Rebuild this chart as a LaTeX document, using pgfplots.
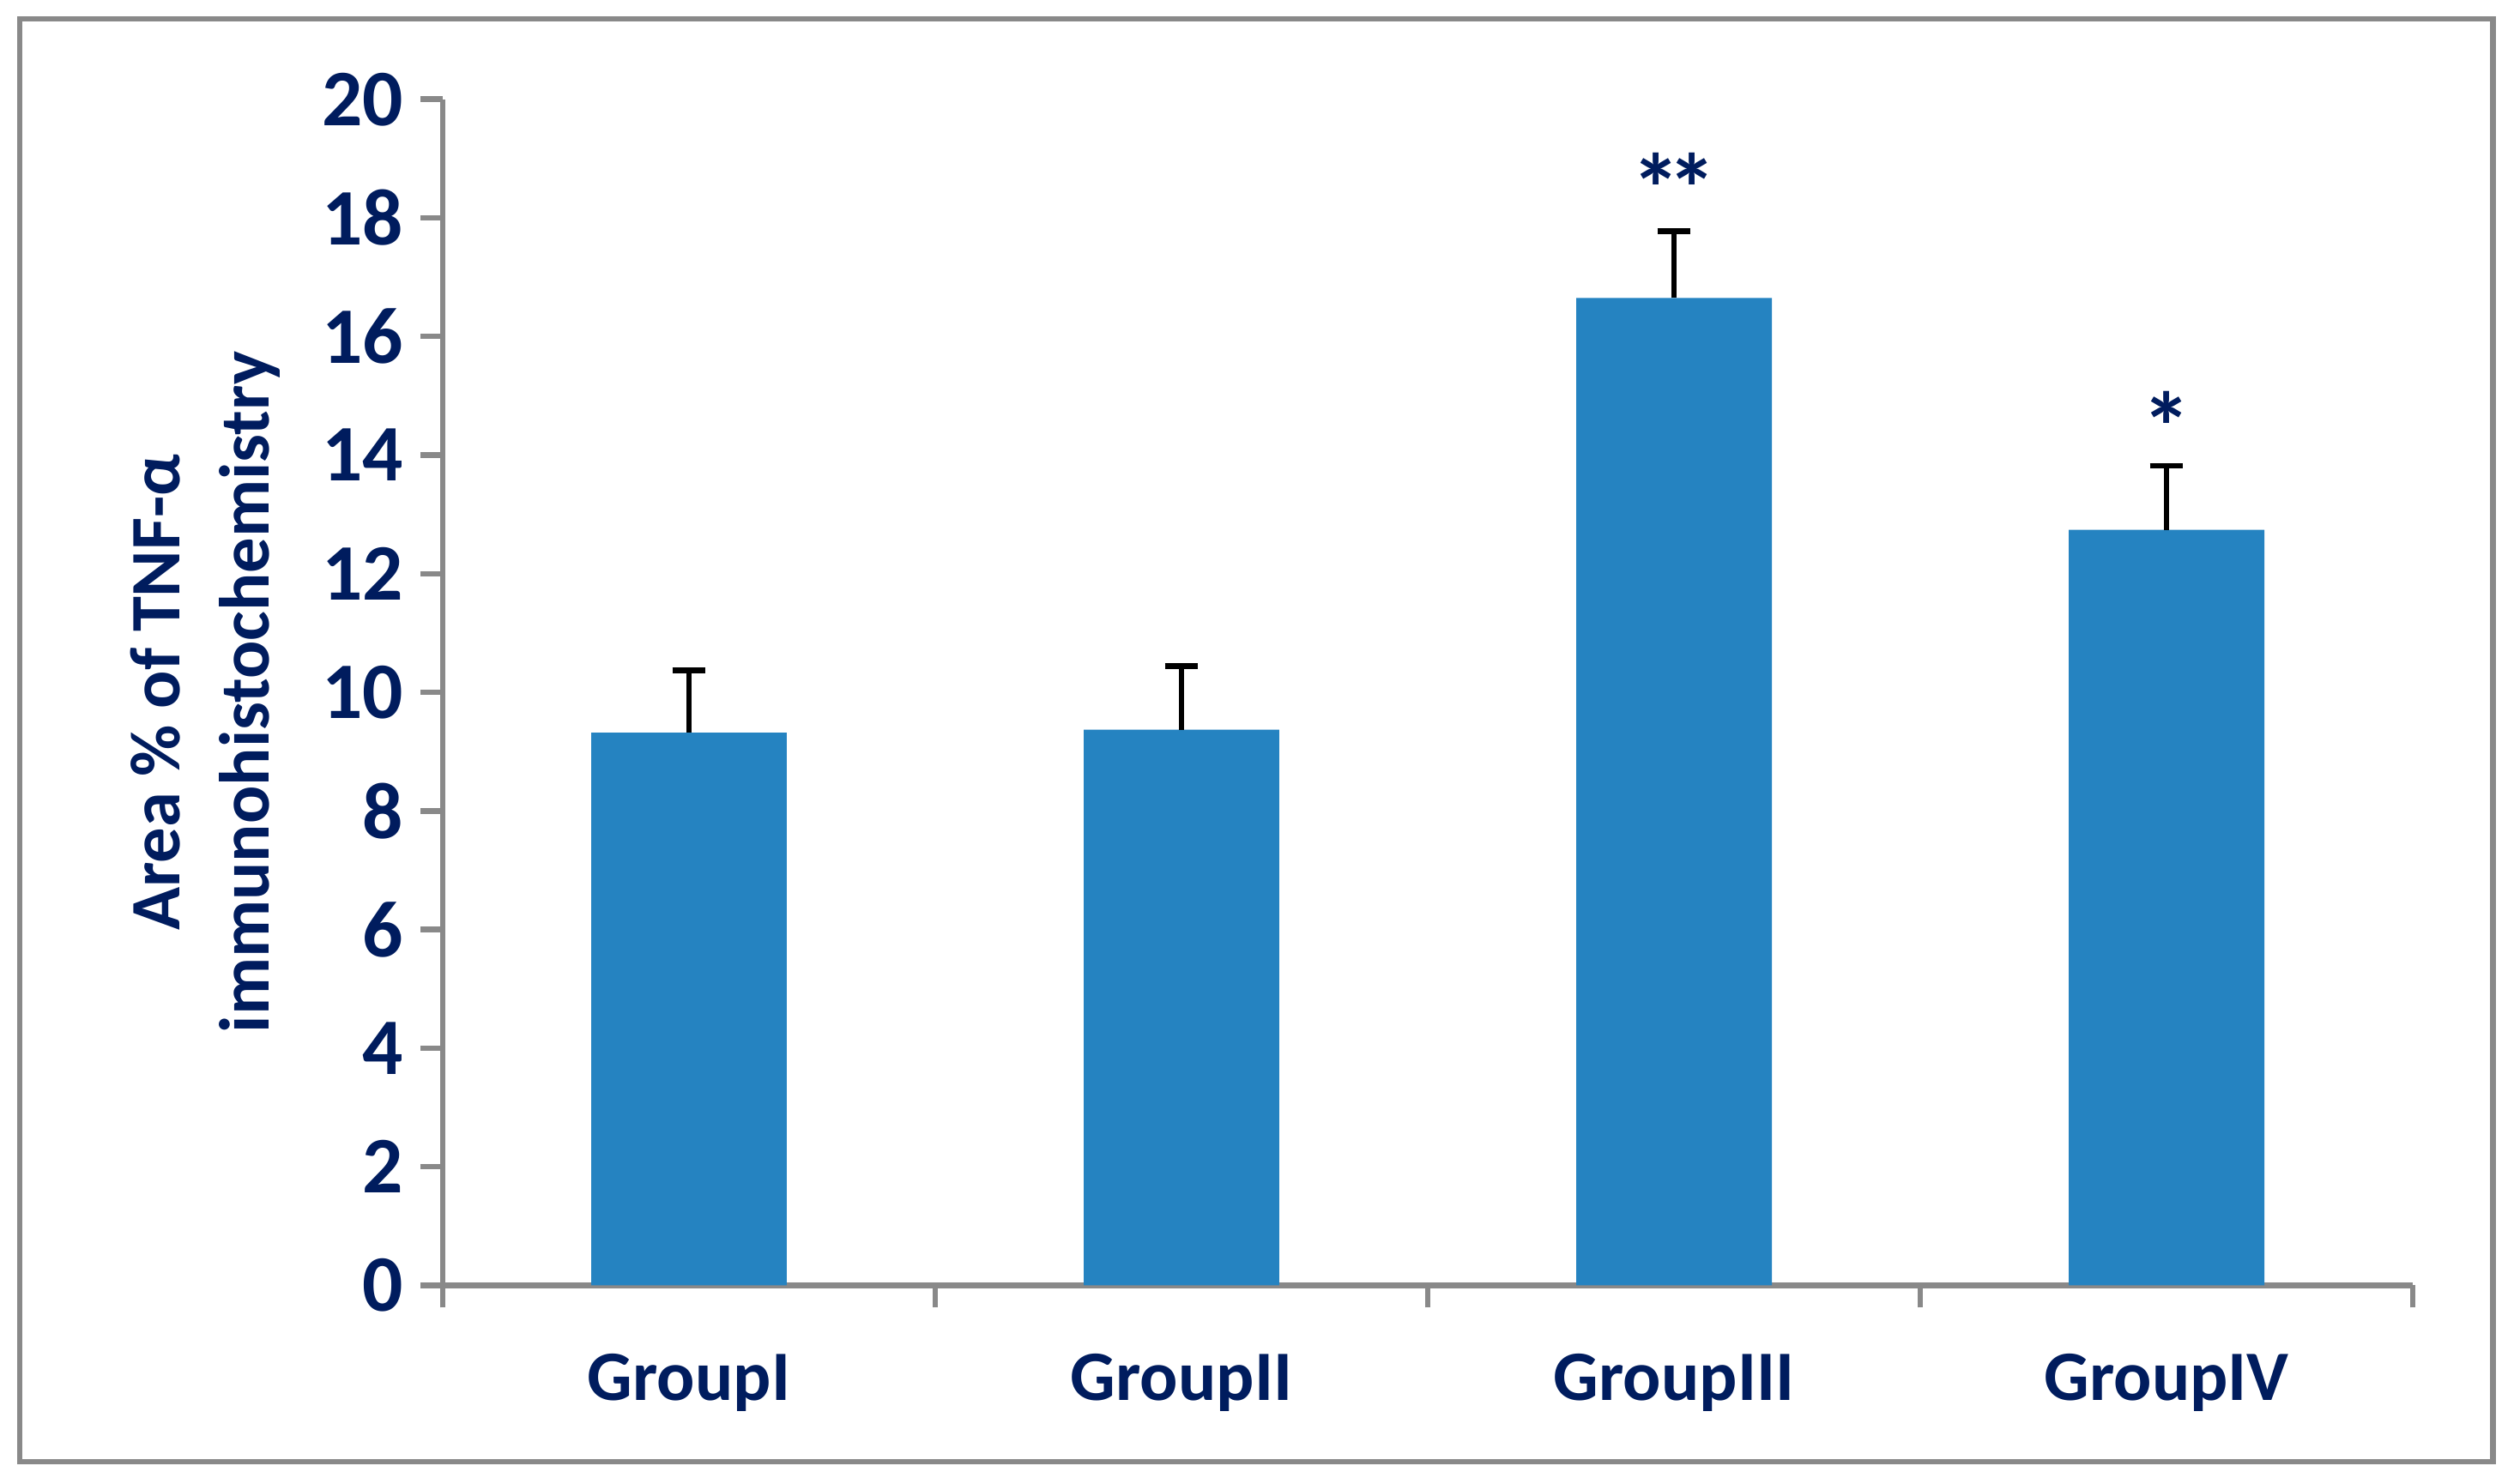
\documentclass[border=0pt]{standalone}
\usepackage{fontspec}
\setmainfont{Carlito}
\usepackage{pgfplots}
\pgfplotsset{compat=1.18}
\definecolor{navy}{RGB}{0,28,94}
\definecolor{barblue}{RGB}{37,131,193}
\definecolor{axgray}{RGB}{137,137,137}
\begin{document}
\begin{tikzpicture}
\path[use as bounding box] (-71.8pt,-32.2pt) rectangle (335.9pt,208.5pt);
\draw[axgray, line width=0.9pt] (-68.6pt,-28.6pt) rectangle (332.5pt,205.4pt);
\begin{axis}[
  at={(0pt,0pt)}, anchor=south west, scale only axis,
  width=319.5pt, height=192.4pt,
  xmin=0, xmax=4, ymin=0, ymax=20,
  axis x line*=bottom, axis y line*=left,
  axis line style={draw=axgray, line width=0.9pt},
  tick align=outside, major tick length=3.6pt,
  tick style={draw=axgray, line width=0.9pt},
  ytick={0,2,...,20},
  xtick={0,1,2,3,4},
  xticklabels={GroupI,GroupII,GroupIII,GroupIV},
  x tick label as interval,
  /pgf/number format/assume math mode=true,
  xticklabel style={font=\fontsize{11.5}{13}\selectfont\bfseries, text=navy, anchor=base, yshift=-15.1pt},
  yticklabel style={font=\fontsize{13}{15}\selectfont\bfseries, text=navy, inner sep=2.6pt},
  ylabel={Area \% of TNF-α\\immunohistochemistry},
  ylabel style={align=center, font=\fontsize{11.5}{14.6}\selectfont\bfseries, text=navy,
    at={(axis description cs:-0.1205,0.5)}, anchor=center},
  clip=false,
]
\addplot[ybar, bar width=0.397, fill=barblue, draw=none,
  error bars/.cd, y dir=plus, y explicit,
  error bar style={black, line width=0.93pt},
  error mark options={black, rotate=90, mark size=2.7pt, line width=0.93pt}]
  coordinates {
    (0.5,9.32) +- (0,1.05)
    (1.5,9.37) +- (0,1.07)
    (2.5,16.65) +- (0,1.13)
    (3.5,12.74) +- (0,1.08)
  };
\node[anchor=north, inner sep=0pt, font=\fontsize{16}{16}\selectfont\bfseries, text=navy] at (axis cs:2.5,19.12) {*\kern-2.2pt*};
\node[anchor=north, inner sep=0pt, font=\fontsize{16}{16}\selectfont\bfseries, text=navy] at (axis cs:3.5,15.1) {*};
\end{axis}
\end{tikzpicture}
\end{document}
